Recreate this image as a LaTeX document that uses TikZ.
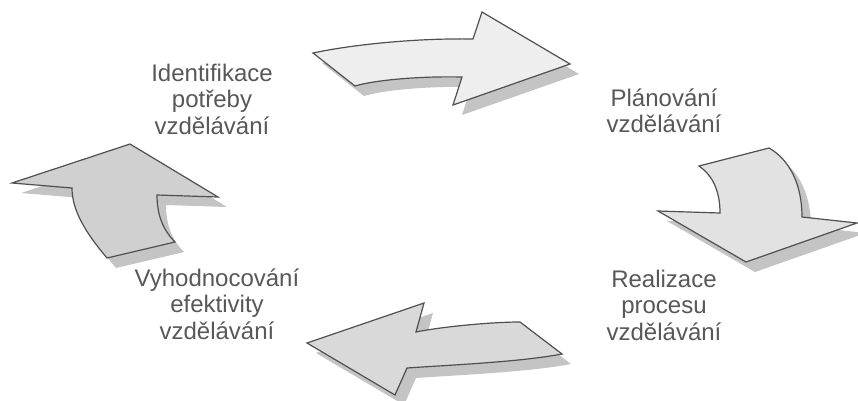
\documentclass[tikz,border=0pt]{standalone}
\usepackage{fontspec}
\setmainfont{Liberation Sans}
\definecolor{edgegray}{HTML}{505050}
\definecolor{shadowgray}{HTML}{C4C4C4}
\definecolor{txtgray}{HTML}{585858}
\definecolor{fillA}{HTML}{EEEEEE}
\definecolor{fillB}{HTML}{E2E2E2}
\definecolor{fillC}{HTML}{D9D9D9}
\definecolor{fillD}{HTML}{D0D0D0}
\tikzset{
  arrowshape/.style={draw=edgegray, line width=1.2pt, line join=miter},
  arrowshadow/.style={fill=shadowgray, draw=none, shift={(9,10)}},
  lbl/.style={align=center, text=txtgray, font=\fontsize{24}{26.5}\selectfont, inner sep=0pt}
}
\newcommand\pathTop{(313,53) .. controls (355,44) and (420,38) .. (473,39) -- (482,12) -- (570,64) -- (453,105) -- (462,77) .. controls (420,76) and (375,80) .. (355,86) -- cycle}
\newcommand\pathRight{(699,166) -- (769,148) .. controls (790,160) and (802,185) .. (802,217) -- (857,223) -- (746,262) -- (658,211) -- (720,213) .. controls (720,190) and (712,175) .. (699,166) -- cycle}
\newcommand\pathBottom{(416,332) -- (424,303) -- (307,343) -- (395,395) -- (407,368) .. controls (450,365) and (520,362) .. (562,354) -- (520,322) .. controls (490,322) and (440,327) .. (416,332) -- cycle}
\newcommand\pathLeft{(130,144) -- (218,197) -- (157,195) .. controls (157,215) and (163,230) .. (175,242) -- (107,258) .. controls (85,232) and (72,210) .. (72,188) -- (12,183) -- cycle}
\begin{document}
\begin{tikzpicture}[x=1pt,y=-1pt]
\useasboundingbox (0,0) rectangle (858,400);
\fill[white] (0,0) rectangle (858,400);
% shadows
\path[arrowshadow] \pathTop;
\path[arrowshadow] \pathRight;
\path[arrowshadow] \pathBottom;
\path[arrowshadow] \pathLeft;
% arrows
\path[arrowshape, fill=fillA] \pathTop;
\path[arrowshape, fill=fillB] \pathRight;
\path[arrowshape, fill=fillC] \pathBottom;
\path[arrowshape, fill=fillD] \pathLeft;
% labels
\node[lbl] (ident) at (212,99) {Identifikace\\potřeby\\vzdělávání};
\node[lbl] (plan) at (664,111) {Plánování\\vzdělávání};
\node[lbl] (real) at (664,305) {Realizace\\procesu\\vzdělávání};
\node[lbl] (vyhod) at (217,304) {Vyhodnocování\\efektivity\\vzdělávání};
\end{tikzpicture}
\end{document}
